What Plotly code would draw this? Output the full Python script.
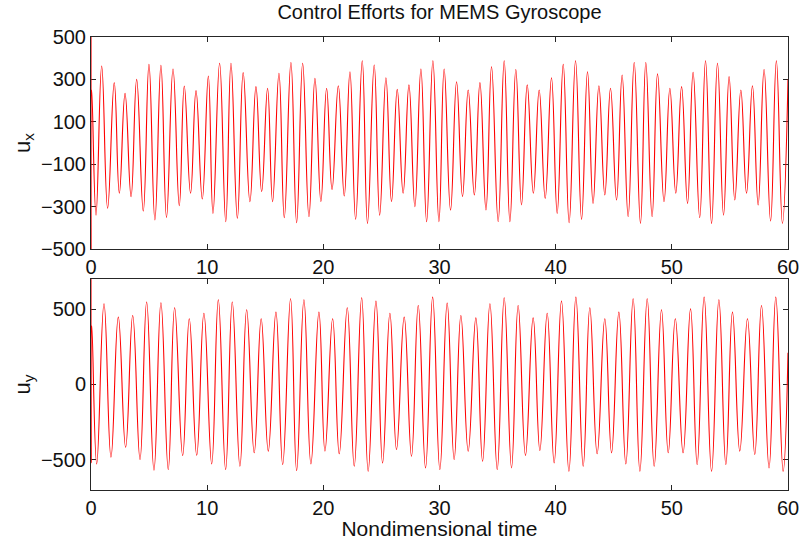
import plotly.graph_objects as go

# Control effort u_x: start transient, then alternating extrema (time, value)
t_ux = [0, 0.02, 0.06, 0.43, 0.92, 1.43, 2.0, 2.44, 2.93, 3.45, 3.93, 4.5, 4.99, 5.5, 6.02, 6.5,
        7.06, 7.6, 8.03, 8.57, 9.04, 9.58, 10.1, 10.5, 11.07, 11.6, 12.05, 12.6, 13.1, 13.68,
        14.2, 14.69, 15.2, 15.63, 16.18, 16.64, 17.21, 17.7, 18.22, 18.76, 19.28, 19.79, 20.28,
        20.75, 21.29, 21.8, 22.29, 22.78, 23.35, 23.8, 24.38, 24.85, 25.39, 25.87, 26.36, 26.87,
        27.37, 27.88, 28.4, 28.89, 29.43, 29.95, 30.4, 30.95, 31.47, 31.98, 32.47, 33.0, 33.48,
        34.0, 34.48, 35.05, 35.57, 36.06, 36.57, 37.06, 37.55, 38.08, 38.58, 39.1, 39.64, 40.13,
        40.65, 41.16, 41.71, 42.23, 42.74, 43.22, 43.72, 44.23, 44.72, 45.24, 45.72, 46.24, 46.76,
        47.3, 47.76, 48.3, 48.77, 49.33, 49.83, 50.34, 50.84, 51.35, 51.83, 52.4, 52.9, 53.42,
        53.93, 54.45, 54.93, 55.42, 55.94, 56.43, 56.94, 57.43, 57.94, 58.5, 59.0, 59.52, 60]
u_x = [800, -800, 250, -340, 363, -308, 285, -237, 234, -253, 300, -321, 371, -363, 366, -351,
       349, -296, 269, -237, 247, -264, 316, -332, 376, -371, 376, -355, 332, -277,
       266, -230, 258, -277, 329, -352, 380, -376, 376, -347, 305, -277, 258,
       -220, 270, -250, 336, -360, 388, -379, 368, -340, 308, -277, 253, -237,
       274, -300, 349, -371, 388, -371, 349, -316, 289, -253, 250, -245, 285,
       -316, 360, -371, 388, -371, 347, -292, 274, -237, 250, -261, 308, -332,
       371, -376, 388, -360, 336, -285, 270, -245, 258, -269, 321, -347, 380,
       -379, 380, -347, 326, -277, 258, -237, 266, -285, 333, -352, 388, -379,
       376, -340, 313, -269, 250, -237, 270, -292, 347, -368, 388, -379, 300]

# Control effort u_y: start transient, then alternating extrema (time, value)
t_uy = [0, 0.02, 0.07, 0.49, 1.12, 1.72, 2.35, 2.98, 3.59, 4.22, 4.79, 5.42, 6.02, 6.65, 7.2,
        7.89, 8.46, 9.1, 9.72, 10.39, 10.96, 11.59, 12.16, 12.82, 13.4, 14.05, 14.65, 15.26,
        15.92, 16.5, 17.18, 17.7, 18.33, 18.93, 19.62, 20.14, 20.8, 21.37, 22.06, 22.66, 23.3,
        23.86, 24.53, 25.1, 25.73, 26.3, 26.96, 27.59, 28.17, 28.8, 29.41, 30.03, 30.66, 31.26,
        31.84, 32.47, 33.13, 33.71, 34.34, 34.97, 35.57, 36.2, 36.77, 37.4, 38.06, 38.64, 39.27,
        39.87, 40.5, 41.14, 41.74, 42.37, 42.94, 43.57, 44.23, 44.81, 45.44, 46.04, 46.67, 47.25,
        47.88, 48.48, 49.11, 49.69, 50.3, 50.97, 51.61, 52.18, 52.78, 53.42, 54.05, 54.65, 55.22,
        55.85, 56.51, 57.14, 57.72, 58.37, 58.95, 59.58, 60]
u_y = [900, -520, 390, -527, 536, -482, 447, -416, 458, -498, 547, -569, 542, -564, 509,
       -471, 436, -469, 473, -527, 562, -564, 547, -542, 496, -453, 436, -442,
       480, -531, 569, -571, 562, -527, 480, -442, 436, -460, 509, -542, 576,
       -576, 553, -520, 473, -431, 447, -476, 524, -553, 580, -564, 540, -498,
       458, -442, 442, -509, 536, -564, 576, -553, 524, -470, 442, -438, 473,
       -520, 553, -576, 580, -542, 509, -460, 436, -453, 480, -527, 569, -576,
       569, -542, 496, -453, 436, -453, 502, -531, 580, -576, 562, -531, 480,
       -442, 436, -464, 524, -553, 580, -576, 210]

x_ticks = [0, 10, 20, 30, 40, 50, 60]
ux_ticks = [-500, -300, -100, 100, 300, 500]
uy_ticks = [-500, 0, 500]

FONT = "Liberation Sans, Arial, sans-serif"
INK = "#262626"
TXT = "#111111"

fig = go.Figure()
fig.add_trace(go.Scatter(x=t_ux, y=u_x, mode="lines", xaxis="x", yaxis="y",
                         line=dict(color="#ff0000", width=1.1, shape="spline", smoothing=1.3),
                         showlegend=False))
fig.add_trace(go.Scatter(x=t_uy, y=u_y, mode="lines", xaxis="x2", yaxis="y2",
                         line=dict(color="#ff0000", width=1.1, shape="spline", smoothing=1.3),
                         showlegend=False))

axis_common = dict(showline=True, linecolor=INK, linewidth=1, mirror="ticks",
                   ticks="inside", ticklen=5, tickcolor=INK, showgrid=False,
                   zeroline=False, layer="below traces", automargin=False,
                   tickfont=dict(family=FONT, size=20, color=TXT))

fig.update_layout(
    width=807, height=540,
    margin=dict(l=91, r=19, t=37, b=50),
    paper_bgcolor="white", plot_bgcolor="white",
    font=dict(family=FONT, color=TXT),
    title=dict(text="Control Efforts for MEMS Gyroscope", x=0.5, xref="paper",
               y=1 - 12 / 540, yref="container", yanchor="middle",
               font=dict(family=FONT, size=20, color=TXT)),
    xaxis=dict(domain=[0, 1], range=[0, 60], tickvals=x_ticks, anchor="y", **axis_common),
    yaxis=dict(domain=[0.532, 1], range=[-500, 500], tickvals=ux_ticks, anchor="x",
               title=dict(text="u<sub>x</sub>", font=dict(family=FONT, size=22), standoff=4),
               **axis_common),
    xaxis2=dict(domain=[0, 1], range=[0, 60], tickvals=x_ticks, anchor="y2",
                title=dict(text="Nondimensional time", font=dict(family=FONT, size=21), standoff=0),
                **axis_common),
    yaxis2=dict(domain=[0, 0.4658], range=[-700, 700], tickvals=uy_ticks, anchor="x2",
                title=dict(text="u<sub>y</sub>", font=dict(family=FONT, size=22), standoff=4),
                **axis_common),
)

fig.write_html("out.html")
